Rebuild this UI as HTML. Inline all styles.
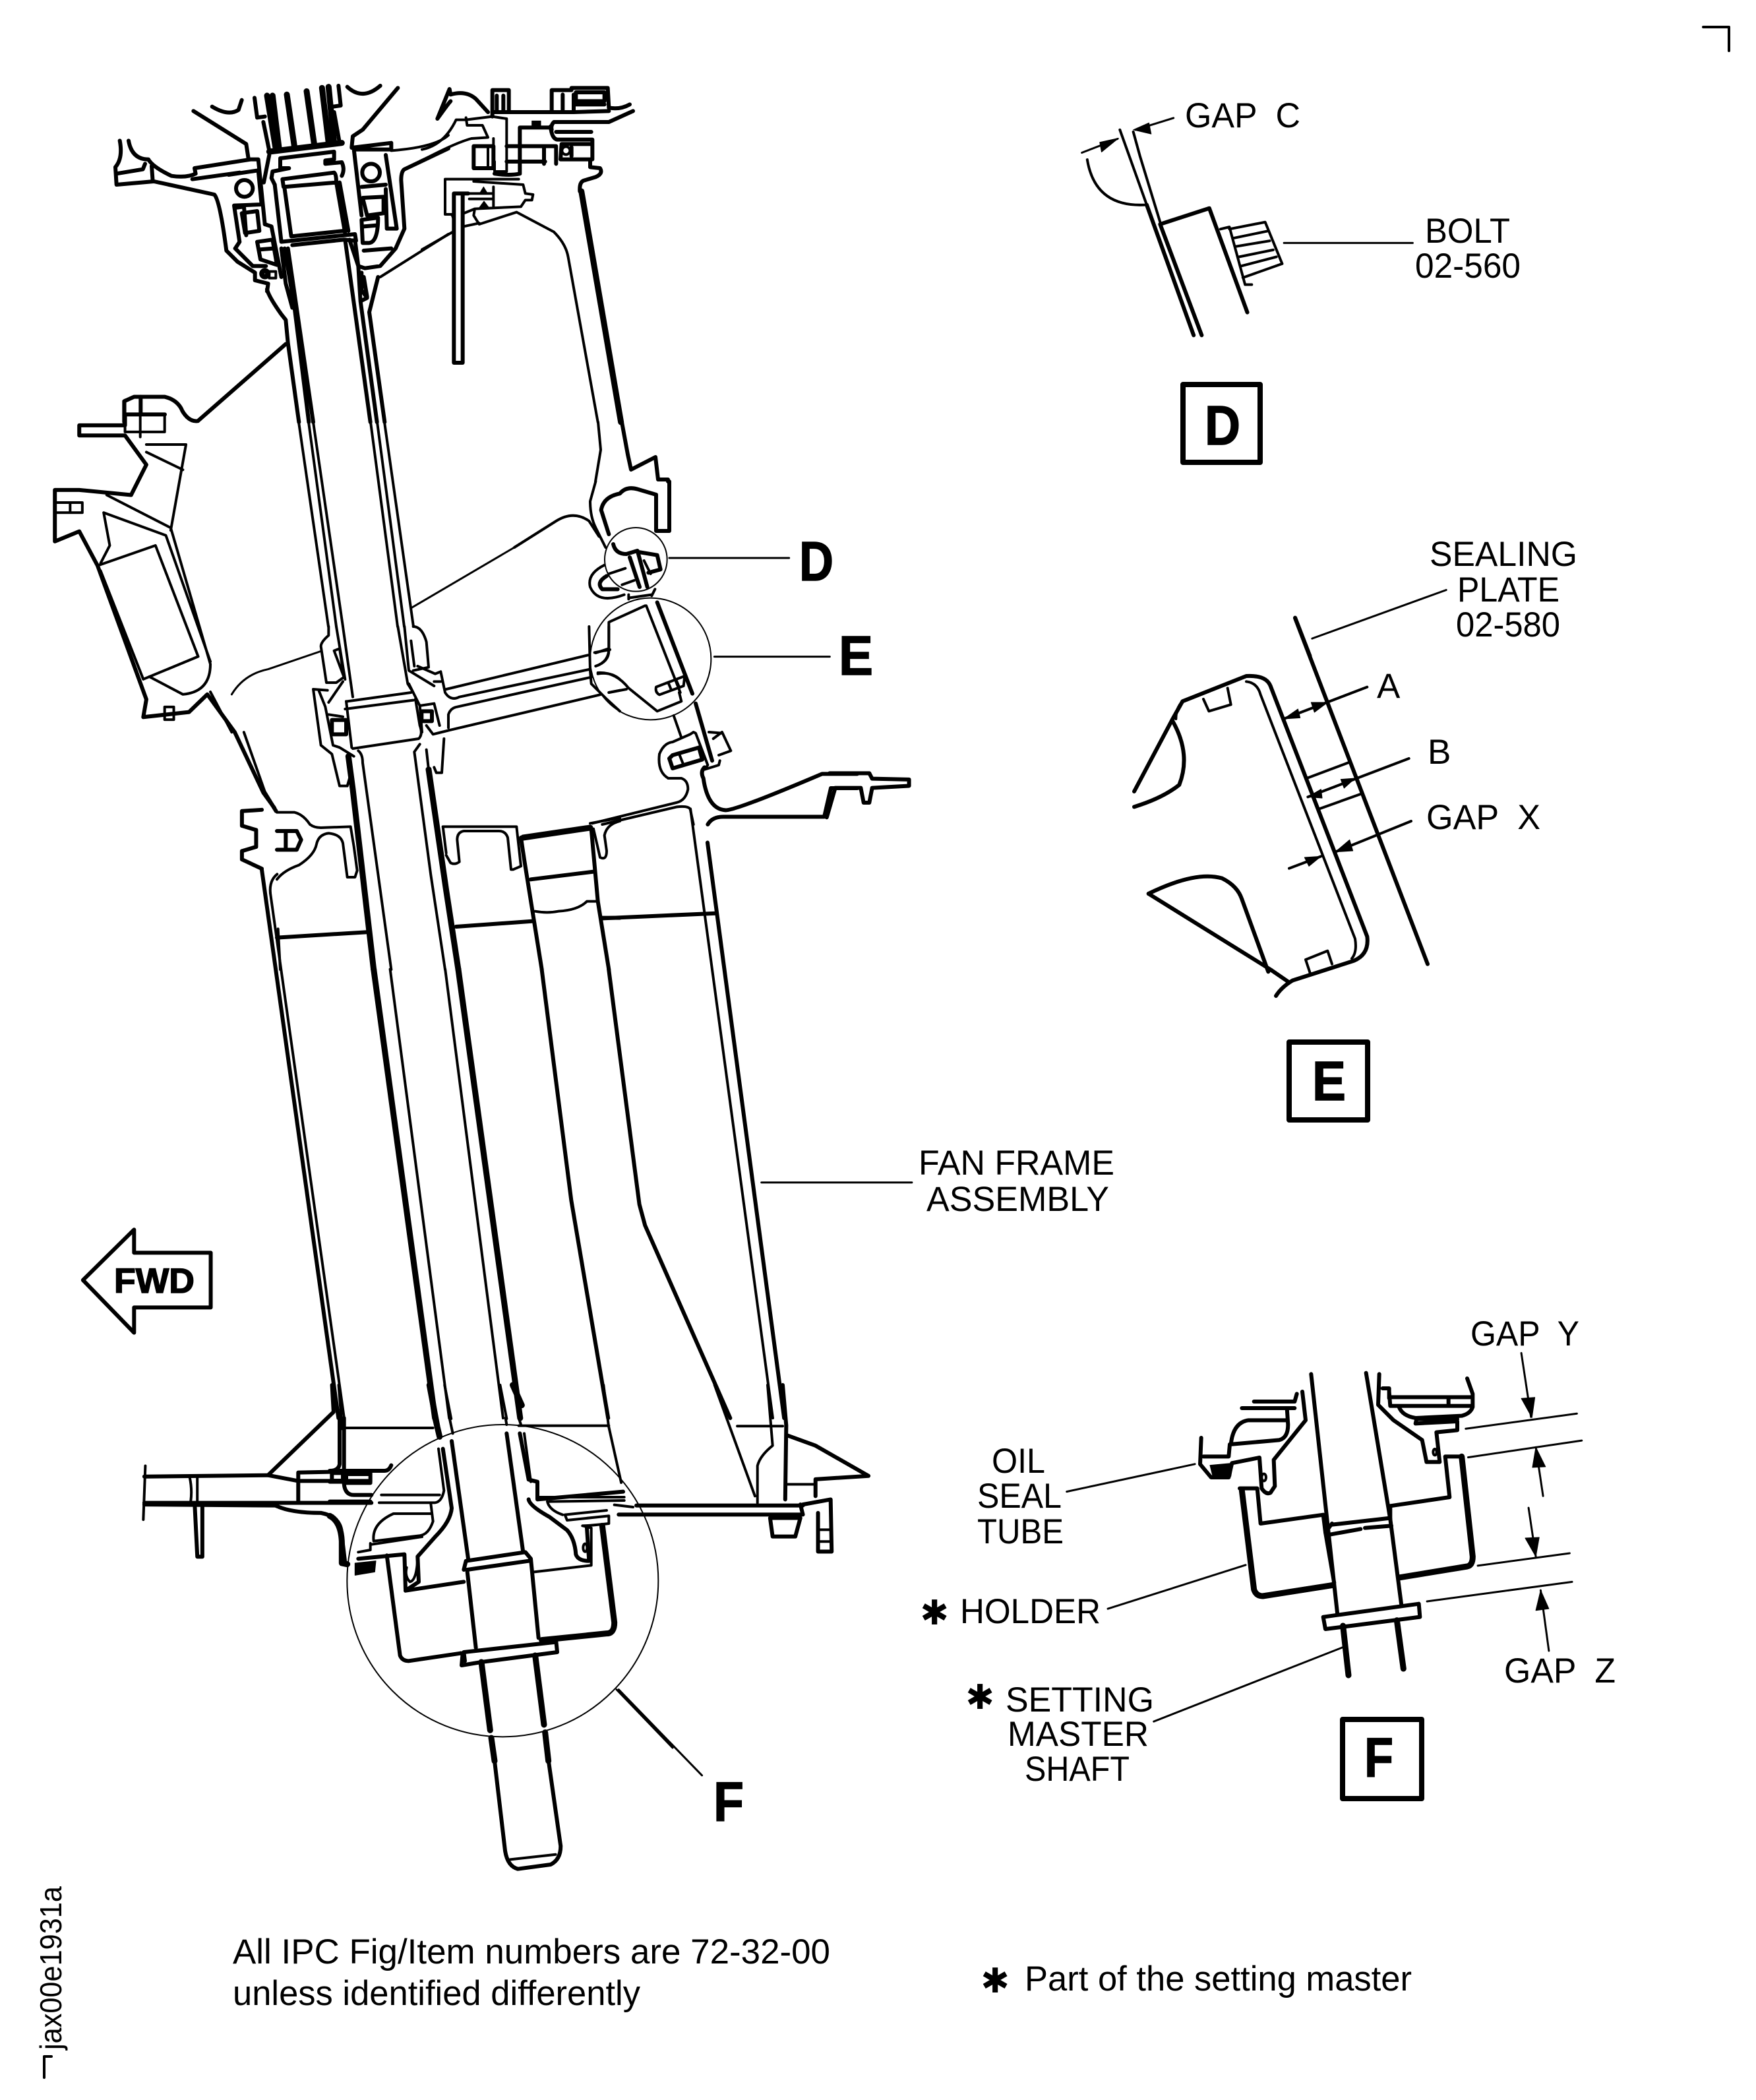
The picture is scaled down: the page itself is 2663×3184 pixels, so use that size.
<!DOCTYPE html>
<html><head><meta charset="utf-8"><style>
html,body{margin:0;padding:0;background:#fff}
svg{display:block}
path,ellipse,circle,rect,polygon,line{vector-effect:non-scaling-stroke;fill:none;stroke:#000;stroke-linejoin:round;stroke-linecap:round}
.c{stroke-width:2}.t{stroke-width:3}.m{stroke-width:4}.h{stroke-width:6}.x{stroke-width:9}
.f{fill:#000;stroke-width:1}
.w{fill:#fff}
text{font-family:"Liberation Sans",sans-serif;font-size:53px;fill:#000;white-space:pre}
.b{font-weight:bold;font-size:84px;stroke:#000;stroke-width:1.5}
.s{font-family:"DejaVu Sans",sans-serif;font-size:52px;text-anchor:middle}
</style></head><body>
<svg xmlns="http://www.w3.org/2000/svg" width="2663" height="3184" viewBox="0 0 2663 3184">
<rect x="0" y="0" width="2663" height="3184" style="fill:#fff;stroke:none"/>
<path class="m" d="M2583 41H2622V77"/>
<path class="m" d="M67 3150V3118H78"/>

<!-- top-left trace -->
<g transform="translate(160,120) scale(.33333)">
<path class="h" d="M400 145L640 295L650 360M485 125Q560 170 605 140L620 95M1100 35Q1170 100 1250 30M678 85L690 175L725 170M718 195L745 325"/>
<path class="x" d="M735 75L775 320M760 75L790 320M825 70L860 310M915 55L950 300M985 40L1015 290M1015 35L1040 290"/>
<path class="h" d="M1060 30L1070 120L1035 125M1040 150L1065 290"/>
<path class="x" d="M745 330L1075 290"/>
<path class="h" d="M795 360L1040 330L1040 365L1000 370V385L1075 378Q1090 410 1075 440M745 345L720 470M795 365V405H835L760 420L755 450L770 480"/>
<path class="h" d="M805 455L1040 425Q1050 430 1050 470L1090 700M805 455L810 490L1050 470M815 500L845 715M1065 470L1105 690M770 480L800 740M800 740L1135 705L1140 735L1085 730M850 755L1085 730M845 715L1085 690"/>
<path class="h" d="M800 770L820 930L850 1040M830 770L945 1560M815 770L860 1040L925 1560M735 955Q740 985 800 1070L820 1095L830 1200L880 1560"/>
<path class="h" d="M1090 730L1205 1560M1110 730L1150 850L1160 1010L1235 1560M1165 880V960L1190 995L1160 1010M1200 1060L1270 1560M1240 900L1200 1060M1175 900L1190 990"/>
<path class="h" d="M820 1205L420 1555Q380 1560 350 1510Q330 1460 270 1445H130L85 1465V1560M85 1525H270"/>
<path class="h" d="M160 1445V1525"/>
<path class="h" d="M65 280Q80 360 45 400L50 480L220 465L495 525Q520 550 550 780L600 830L680 880V915L740 930L735 965M105 280Q120 365 195 365Q215 400 300 440Q370 450 410 430L405 405L660 365H695L725 660M50 430L170 410L180 385M210 395L215 465M395 455L610 425"/>
<path class="h" d="M560 435L695 415L710 570L585 575L610 740L590 770L670 850H730M620 610L690 600L700 690L635 700ZM725 660L755 670L800 900M690 740L760 730L780 845L705 820ZM700 775L765 770M590 585L630 580L640 710"/>
<circle class="h" cx="632" cy="497" r="38"/><circle class="x w" cx="725" cy="885" r="12"/><rect class="m" x="745" y="875" width="30" height="30"/>
<path class="h" d="M1120 312L1300 290V320L1130 320L1165 620M1275 345L1325 680H1280L1275 500M1165 490L1275 480M1170 540L1265 535V610L1190 620ZM1165 640L1240 630Q1240 740 1200 745H1170ZM1175 670L1235 665M1175 780L1300 770M1125 260L1170 230L1330 40M1125 260L1120 310M1135 730L1150 850L1180 860L1250 850L1320 770L1360 680L1345 460Q1345 420 1360 410L1560 315"/>
<circle class="h" cx="1208" cy="425" r="40"/>
<path class="m" d="M1300 325Q1500 310 1560 255"/>
<path class="m" d="M1250 900L1560 705"/>
</g>

<!-- top-right trace -->
<g transform="translate(640,120) scale(.33333)">
<path class="h" d="M70 180L125 45L130 70Q200 50 245 90L300 150M70 180Q120 110 130 100"/>
<path class="h" d="M320 170V50H395V150M340 75V145M370 75V150"/>
<path class="h" d="M590 50H680V40H845L850 130Q900 140 945 115M590 50V150M640 70V150M690 70V150M700 60H830V100H700ZM700 115H830M690 150L850 145M320 150H690"/>
<path class="m" d="M0 320Q100 300 155 185H200L320 170L385 180V420H330V375M200 175L205 210H275L300 265L225 270Q150 290 0 370"/>
<rect class="h" x="235" y="305" width="90" height="100"/>
<path class="m" d="M300 305V400M325 270V405"/>
<path class="h" d="M385 305H610M385 375H560M445 220V430Q400 440 330 430M445 220H585M555 310V385M610 310V385M585 215Q590 270 615 275H775V310M600 195H850L960 145M600 195Q585 210 590 230M610 240H770M635 295H775V365H630ZM680 310V350M765 365V400L810 405Q825 430 790 445L740 460Q715 465 718 510"/>
<path class="x" d="M725 510L905 1560"/>
<circle class="m" cx="655" cy="325" r="18"/>
<path class="f" d="M500 190H540V215H500Z"/>
<path class="m" d="M105 455H440M105 455V615H135Q150 640 145 690"/>
<path class="h" d="M145 520V1290H185V520ZM185 520H210"/>
<path class="m" d="M235 465L460 480L470 520L505 525L500 550H470L450 580L240 590M325 490V580M215 520H325M215 545H325M190 610L240 590L235 620L260 660L430 605L600 695Q655 750 665 810L800 1560M190 670L260 655"/>
<path class="f" d="M265 515H295L280 490ZM260 585H305L282 555Z"/>
<path class="m" d="M0 775L140 695"/>
</g>
<path class="m" d="M907 640L911 682L903 730"/>
<path class="h" d="M943 640L952 689L957 712L994 693L998 727H1013V730"/>

<!-- shaft between traces -->
<path class="m" d="M453 640L498 950M468 640L510 950M475 640L520 950M562 640L603 950M572 640L613 950M583 640L627 950"/>

<!-- casing -->
<g transform="translate(0,100) scale(.9247,.7653)">
<path class="t" d="M380 1245Q400 1205 440 1195L525 1160"/>
<path class="h" d="M205 690V712H130V732H205L240 790L215 850L130 840H90V942L130 922L160 990L240 1255L235 1290L310 1280L340 1245L385 1320L432 1440L450 1470"/>
<path class="m" d="M205 662V725M205 690H270V725H205M230 662V735M240 750H305L280 920M240 765L300 800M90 865H135V885H90M115 865V885M175 850L280 915L345 1185Q345 1240 300 1245L245 1210M170 885L272 930L345 1180M170 885L180 950L165 985M160 990L255 950L325 1170L235 1215M165 1000L235 1215M400 1320L435 1440L450 1470"/>
<path class="m" d="M270 1295V1270H285V1295ZM345 1240L380 1320"/>
</g>
<path class="t" d="M625 921L780 830"/>

<!-- D/E region -->
<g transform="translate(780,730) scale(.33333)">
<path class="m" d="M370 0L345 90Q345 160 370 210L415 300M0 300L190 180Q270 130 340 180L385 250"/>
<path class="h" d="M430 240L395 130Q405 70 480 55Q510 20 560 35L645 60V225H705V0"/>
<ellipse class="c" cx="553" cy="355" rx="142" ry="145"/>
<ellipse class="c" cx="620" cy="807" rx="275" ry="277"/>
<path class="t" d="M705 348H1250M910 797H1435"/>
<path class="h" d="M450 285Q460 330 510 330L560 315L605 480M525 345L570 480M560 320L650 335L665 400L610 415"/>
<path class="m" d="M590 360L620 420M430 420L505 395M490 470L545 450"/>
<path class="m" d="M410 380Q330 420 345 480Q380 560 500 515"/>
<path class="h" d="M420 430Q370 460 400 490H470"/>
<path class="m" d="M640 490L625 520M520 515V535M520 530L625 515"/>
<path class="m" d="M600 565L755 960M595 565L540 590L430 640V770M365 778L435 765M370 840Q430 820 430 770M380 870Q460 865 520 940L650 1045L760 1000L750 960M430 960L510 945"/>
<path class="h" d="M650 550L810 965"/>
<path class="m" d="M645 935L775 885L770 930L660 970Q640 960 645 935ZM700 915L715 950M735 900L750 935"/>
<path class="h" d="M825 1010L900 1270"/>
<path class="m" d="M725 1065L760 1165M660 1240Q680 1190 720 1185L800 1150L815 1140L825 1145L880 1290L865 1310L930 1290L935 1270M905 1170L945 1140L985 1225L930 1245M885 1140L945 1145"/>
<path class="h" d="M705 1260L720 1305L855 1265L840 1210L720 1245Z"/>
<path class="m" d="M750 1240L770 1290"/>
<path class="m" d="M660 1240Q650 1320 700 1350H760Q790 1360 790 1400Q780 1450 740 1460L355 1555M800 1490Q790 1475 740 1480L400 1560M800 1490L815 1560"/>
<path class="h" d="M865 1300Q845 1320 860 1350Q880 1490 960 1495Q1000 1500 1400 1330H1560M880 1560Q900 1525 950 1525H1410L1440 1395H1560"/>
</g>

<!-- collar region -->
<g transform="translate(420,950) scale(.33333)">
<path class="m" d="M235 0V40Q200 70 200 90L225 255H270L305 230L260 110L285 100L300 200M270 0L310 240M300 0L345 320"/>
<path class="m" d="M165 285L230 290M165 285L200 540L250 580L285 725H320L330 690M300 250L235 345M190 290L220 365L255 540L285 550L350 590M370 565Q390 580 390 620L520 1560"/>
<path class="m" d="M315 340L340 550M310 375L620 335M320 340L610 300M345 555L645 510Q665 490 650 450L630 330M235 400L300 410"/>
<rect class="h" x="250" y="425" width="65" height="65"/>
<path class="x" d="M325 590L345 740L440 1560"/>
<path class="m" d="M550 0L595 260L620 300M580 0L600 200L715 270M620 0Q660 0 680 70L690 185L620 200M610 65L625 180M600 260L650 360L660 480M745 205L765 300Q790 340 830 320L1420 195M745 205L720 215L640 180M715 250H745M770 285L1415 130M650 360L715 350L740 450M680 450L710 490L750 480L790 470L1470 310M780 460V400Q790 370 820 365L1430 230"/>
<rect class="h" x="658" y="385" width="47" height="45"/>
<path class="m" d="M760 510L750 665H725L715 640M680 560L690 650M650 535L625 570L700 1130L765 1560"/>
<path class="x" d="M690 650L770 1200L825 1560"/>
<path class="m" d="M1420 0L1425 200L1430 260L1500 330L1560 385M1510 0V100L1450 120M1510 100Q1510 160 1450 180M1460 215Q1520 205 1560 240M1510 300L1560 290"/>
<path class="h" d="M0 930H90L110 970L90 1015H0M40 935V1010"/>
<path class="m" d="M0 845H80Q120 855 150 900Q170 915 200 915L335 910L350 1000L365 1110M180 990Q190 945 235 940Q290 945 300 985L320 1140H355L365 1110M180 990Q170 1040 100 1085Q30 1110 0 1150"/>
<path class="m" d="M755 910H1090L1100 1000L1110 1090L1075 1105H1065L1050 960Q1040 930 1010 930H850Q820 935 820 970L830 1070Q810 1085 790 1075L770 1040M755 910L770 1030"/>
<path class="x" d="M1120 960L1425 915"/>
<path class="h" d="M1125 1060L1205 1560M1110 960L1125 1060"/>
<path class="h" d="M1430 920L1460 1250L1510 1560M1155 1150L1440 1115M815 1365L1165 1340M1480 1325H1560M0 1415L405 1390"/>
<path class="m" d="M1175 1295Q1230 1305 1280 1295Q1370 1290 1410 1250H1450M5 1375L15 1560M1425 895L1560 870M1440 920L1470 1050Q1500 1065 1500 1020L1490 950Q1500 900 1560 885"/>
</g>

<!-- mid struts -->
<g transform="translate(100,1150) scale(.861,.6378)">
<path class="x" d="M542 501L650 1568"/>
<path class="x" d="M691 501L800 1568"/>
<path class="h" d="M345 265L480 1568M1130 200L1265 1568"/>
<path class="m" d="M571 501L675 1568M668 501L770 1568M360 320L490 1568M1100 120L1245 1568"/>
<path class="h" d="M838 501L890 1050L955 1568M956 501L1010 1060L1020 1110L1170 1568"/>
<path class="h" d="M945 380L1145 368"/>
<path class="h" d="M1340 140L1355 70H1400L1405 105H1415L1420 70L1485 65V50L1420 48L1415 35H1345"/>
<path class="h" d="M310 125L345 122M310 125V160L335 170V210L310 220V240L345 262M345 70L370 125"/>
<path class="m" d="M360 320Q358 290 372 275"/>
<path class="t" d="M1225 1008H1490"/>
<polygon class="h" points="30,1240 120,1120 120,1175 255,1175 255,1305 120,1305 120,1365"/>
</g>
<text x="173" y="1960" style="font-weight:bold;stroke:#000;stroke-width:1.5" textLength="122" lengthAdjust="spacingAndGlyphs">FWD</text>

<!-- base -->
<g transform="translate(150,2100) scale(.7653,.5102)">
<path class="x" d="M655 0L670 120M820 0L838 60"/>
<path class="m" d="M685 0L698 100M795 0L808 100"/>
<path class="h" d="M462 0L465 80L335 268M1355 0L1362 120L1360 340"/>
<path class="m" d="M475 0L482 130M1000 0L1010 122L1035 290M1220 0L1300 330M1325 0L1335 180Q1310 210 1305 240V350"/>
<path class="m" d="M1265 122H1355"/>
<path class="h" d="M90 272L335 268L395 285H535M90 350H540M90 355L350 358Q380 380 440 380Q475 390 480 430L488 530"/>
<path class="h" d="M190 360L195 510H205V360M395 260V345M395 260L460 258"/>
<path class="m" d="M92 240L88 400M180 275Q185 310 182 345M195 270V345"/>
<path class="h" d="M1065 358H1395M1030 385H1395L1390 355"/>
<path class="h" d="M1365 150L1420 180L1525 270L1420 280L1420 330M1395 355L1450 340L1452 495H1425V380"/>
<path class="m" d="M1360 295H1420M1425 430H1450M1425 465H1450"/>
<path class="h" d="M1330 395H1390L1380 450H1335Z"/>
<path class="h" d="M784 1117L805 1385Q810 1430 830 1438L895 1425Q915 1410 915 1370L891 1117"/>
<path class="m" d="M815 1410L905 1395"/>
<path class="t" d="M1030 905L1195 1160"/>
</g>

<!-- F circle trace -->
<g transform="translate(500,2150) scale(.33333)">
<path class="h" d="M45 0V210Q40 240 0 240H250Q270 240 280 215M65 0V300Q70 350 110 350H190M0 290H185V250M70 255H185M75 255V295H185M10 250H60V285H10ZM0 380H185"/>
<path class="m" d="M65 45H470"/>
<path class="x" d="M480 0L500 85"/>
<path class="m" d="M545 0L560 70M800 0L805 30M860 0L870 30M860 35H1270"/>
<ellipse class="c" cx="787" cy="740" rx="708" ry="710"/>
<path class="h" d="M555 105L630 640M805 70L880 610"/>
<path class="h" d="M865 70L905 280L945 290V370L1335 335"/>
<path class="m" d="M885 70L915 290"/>
<path class="m" d="M495 140L520 330Q510 380 480 385H225M235 350H500"/>
<path class="h" d="M515 140L555 410Q550 470 480 540L400 630L405 745L345 785"/>
<path class="m" d="M460 390L470 470Q450 530 410 535L200 560Q190 480 290 435H460M190 575L420 540M185 570V600L130 610"/>
<path class="h" d="M130 640L340 620L345 780M260 625L320 1080Q330 1105 360 1105L595 1070M345 785L610 745"/>
<path class="m" d="M350 680Q340 720 365 745Q395 740 400 640"/>
<path class="f" d="M115 660L210 650L205 700L115 715Z"/>
<path class="x" d="M0 445Q50 470 55 560V660L80 665"/>
<path class="h" d="M610 690L620 650L890 610L915 640L950 1000M625 690L905 650M625 690L665 1045"/>
<path class="m" d="M930 700L1190 670V500L1150 490Q1180 490 1270 480V445L1080 465L1070 440L1260 420"/>
<path class="h" d="M905 370Q910 400 1000 450L1080 510Q1115 550 1120 620Q1130 650 1180 650L1170 500"/>
<path class="m" d="M955 360H1340M990 380Q1000 420 1060 440M1000 380L1340 375M1295 395L1380 405"/>
<ellipse class="m" cx="1162" cy="590" rx="9" ry="18"/>
<path class="x" d="M1240 490L1295 930Q1295 980 1260 980L965 1010"/>
<path class="h" d="M595 1070H605L600 1125L690 1110L1035 1065L1030 1015M610 1065L615 1105M610 1065L1020 1020"/>
<path class="x" d="M690 1110L730 1420M935 1080L975 1395M735 1455L750 1560M980 1430L995 1560"/>
<path class="t" d="M1305 1235L1560 1500"/>
</g>
<text class="b" x="1212" y="880" textLength="52" lengthAdjust="spacingAndGlyphs">D</text>
<text class="b" x="1272" y="1023" textLength="52" lengthAdjust="spacingAndGlyphs">E</text>
<text class="b" x="1082" y="2761" textLength="46" lengthAdjust="spacingAndGlyphs">F</text>

<!-- D detail -->
<g transform="translate(1600,100) scale(.678,1.0523)">
<path class="t" d="M60 125L140 105M180 92L265 75"/>
<polygon class="f" points="142,104 104,124 100,110"/><polygon class="f" points="175,92 215,98 210,82"/>
<path class="m" d="M145 92L205 200M175 95L190 130L235 225M72 135Q90 205 205 200"/>
<path class="h" d="M205 200L310 388M235 228L328 388M235 228L345 205L430 355"/>
<path class="m" d="M370 235L390 232L425 315L440 315M390 235L470 225L508 285L420 305M400 248L475 238M405 260L480 252M412 275L488 265M418 288L495 275"/>
<path class="t" d="M512 255H800M575 825L875 755"/>
<path class="h" d="M537 795L570 850"/>
</g>

<!-- E detail -->
<g transform="translate(1720,1000) scale(.33333)">
<path class="h" d="M732 -189L1335 1385"/>
<path class="h" d="M0 600L175 270L220 190L510 75Q600 70 620 120L1060 1260Q1070 1340 1000 1370L720 1460Q670 1490 645 1530"/>
<path class="m" d="M510 100Q560 105 575 160L1005 1270Q1015 1330 990 1360M190 270Q190 220 220 190"/>
<path class="h" d="M175 280Q260 430 205 570Q130 630 0 670M65 1065Q280 960 400 995Q470 1030 490 1090L610 1420M65 1065L620 1410L700 1465"/>
<path class="m" d="M315 180L340 235L440 205L425 130M780 1365L800 1425M780 1365L880 1325L900 1385"/>
<path class="m" d="M680 270L1060 125M785 540L985 465M840 680L1035 610M790 625L1250 450M705 950L850 895M915 875L1260 735"/>
<polygon class="f" points="680,270 745,225 755,265"/><polygon class="f" points="880,195 805,195 820,240"/>
<polygon class="f" points="790,625 850,590 855,630"/><polygon class="f" points="1005,540 940,545 955,585"/>
<polygon class="f" points="850,895 775,900 795,940"/><polygon class="f" points="915,875 980,820 995,870"/>
</g>

<text x="1797" y="193" textLength="175" lengthAdjust="spacingAndGlyphs">GAP  C</text>
<text x="2161" y="368" textLength="129" lengthAdjust="spacingAndGlyphs">BOLT</text>
<text x="2146" y="421" textLength="160" lengthAdjust="spacingAndGlyphs">02-560</text>
<text x="2168" y="858" textLength="224" lengthAdjust="spacingAndGlyphs">SEALING</text>
<text x="2210" y="912" textLength="155" lengthAdjust="spacingAndGlyphs">PLATE</text>
<text x="2208" y="965" textLength="158" lengthAdjust="spacingAndGlyphs">02-580</text>
<text x="2088" y="1058">A</text><text x="2165" y="1158">B</text>
<text x="2163" y="1257" textLength="173" lengthAdjust="spacingAndGlyphs">GAP  X</text>
<rect x="1794" y="583" width="117" height="118" style="stroke-width:8"/>
<text class="b" x="1827" y="674" textLength="54" lengthAdjust="spacingAndGlyphs">D</text>
<rect x="1955" y="1580" width="119" height="118" style="stroke-width:8"/>
<text class="b" x="1990" y="1668" textLength="51" lengthAdjust="spacingAndGlyphs">E</text>
<rect x="2036" y="2607" width="120" height="120" style="stroke-width:8"/>
<text class="b" x="2069" y="2694" textLength="44" lengthAdjust="spacingAndGlyphs">F</text>
<text x="1393" y="1781" textLength="297" lengthAdjust="spacingAndGlyphs">FAN FRAME</text>
<text x="1405" y="1836" textLength="277" lengthAdjust="spacingAndGlyphs">ASSEMBLY</text>

<!-- F detail leaders & arrows -->
<g transform="translate(1350,1980) scale(.7334,.5102)">
<path class="t" d="M1190 365L1420 320M1195 450L1430 400M1215 772L1405 735M1110 878L1410 820M365 552L630 470M450 900L735 770M545 1235L935 1015M1305 140L1325 330M1350 565L1335 420M1320 600L1335 745M1362 1025L1345 845"/>
<polygon class="f" points="1327,332 1305,275 1333,272"/><polygon class="f" points="1335,420 1328,480 1355,478"/>
<polygon class="f" points="1335,745 1313,690 1342,688"/><polygon class="f" points="1345,845 1335,905 1362,900"/>
</g>
<g transform="translate(1780,2090) scale(.33333)">
<path class="h" d="M625 -20L745 1075M875 -25L985 640L1035 1025M690 700L730 930"/>
<path class="x" d="M310 510L365 960Q375 990 405 990L725 940M1030 905L1335 855Q1360 850 1360 810L1310 355"/>
<path class="h" d="M300 500H380L395 660L680 620L690 700M1310 355H1235L1255 540L985 580V640M720 665L985 635M710 710L850 685M870 680L990 670M690 700L720 660"/>
<polygon class="h w" points="680,1085 1115,1025 1120,1085 690,1140"/>
<path class="x" d="M770 1125L795 1350M1015 1100L1045 1320"/>
<path class="h" d="M125 270L120 390L170 450H250L265 385L390 360L400 500Q420 530 440 520L460 490L455 370L600 190L585 60M135 355H250L255 300L480 280Q520 270 520 210L515 135M260 300Q270 200 340 190H510M365 105H550L560 70M310 135H550"/>
<ellipse class="m" cx="410" cy="450" rx="10" ry="16"/>
<path class="f" d="M165 395L270 385L260 445L180 455Z"/>
<path class="h" d="M935 -20L930 120L1000 190L1130 280L1150 380H1210L1195 245L1290 235V195L1100 205L1105 185H1290M980 60L985 125H1360V85H980M950 45H980V90M1335 0L1360 70V130Q1350 160 1310 170M1025 130Q1040 170 1100 180L1310 170M1250 95V125"/>
<ellipse class="m" cx="1188" cy="335" rx="8" ry="14"/>
</g>

<text x="2230" y="2040" textLength="165" lengthAdjust="spacingAndGlyphs">GAP  Y</text>
<text x="2281" y="2551" textLength="169" lengthAdjust="spacingAndGlyphs">GAP  Z</text>
<text x="1504" y="2233" textLength="81" lengthAdjust="spacingAndGlyphs">OIL</text>
<text x="1482" y="2286" textLength="128" lengthAdjust="spacingAndGlyphs">SEAL</text>
<text x="1482" y="2340" textLength="131" lengthAdjust="spacingAndGlyphs">TUBE</text>
<text x="1456" y="2461" textLength="213" lengthAdjust="spacingAndGlyphs">HOLDER</text>
<text x="1525" y="2595" textLength="225" lengthAdjust="spacingAndGlyphs">SETTING</text>
<text x="1528" y="2647" textLength="214" lengthAdjust="spacingAndGlyphs">MASTER</text>
<text x="1554" y="2700" textLength="159" lengthAdjust="spacingAndGlyphs">SHAFT</text>
<text class="s" x="1417" y="2463">✱</text>
<text class="s" x="1486" y="2591">✱</text>
<text class="s" x="1509" y="3021">✱</text>
<text x="353" y="2977" textLength="906" lengthAdjust="spacingAndGlyphs">All IPC Fig/Item numbers are 72-32-00</text>
<text x="353" y="3040" textLength="618" lengthAdjust="spacingAndGlyphs">unless identified differently</text>
<text x="1554" y="3018" textLength="587" lengthAdjust="spacingAndGlyphs">Part of the setting master</text>
<text transform="translate(93,3108) rotate(-90)" textLength="248" lengthAdjust="spacingAndGlyphs" style="font-size:46px">jax00e1931a</text>
</svg>
</body></html>
